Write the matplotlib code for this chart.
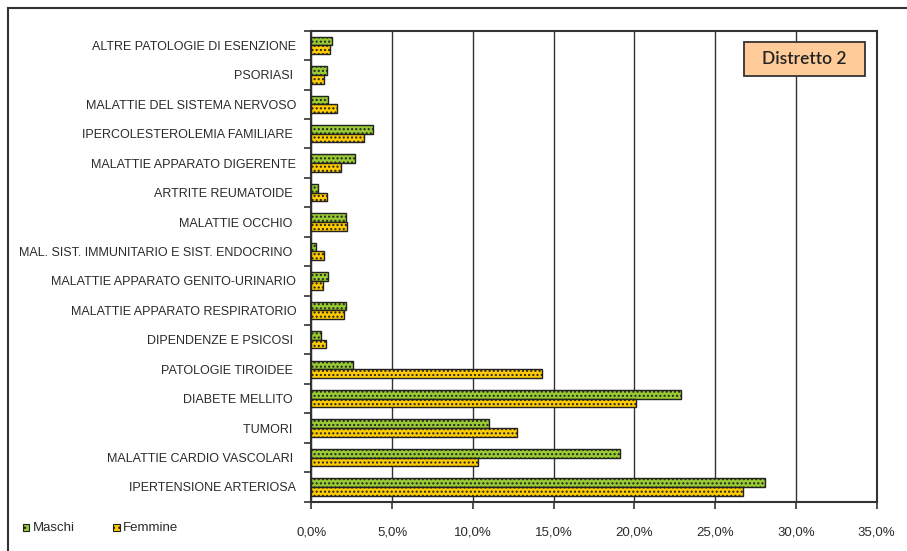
import numpy as np
import matplotlib
matplotlib.use('Agg')
import matplotlib.pyplot as plt
from matplotlib.patches import Rectangle
from matplotlib.ticker import FuncFormatter, MultipleLocator

plt.rcParams['font.family'] = ['Liberation Sans', 'DejaVu Sans']
plt.rcParams['hatch.linewidth'] = 1.0

# Categories, top to bottom as in the chart
categories = [
    'ALTRE PATOLOGIE DI ESENZIONE', 'PSORIASI ', 'MALATTIE DEL SISTEMA NERVOSO',
    'IPERCOLESTEROLEMIA FAMILIARE ', 'MALATTIE APPARATO DIGERENTE', 'ARTRITE REUMATOIDE ',
    'MALATTIE OCCHIO ', 'MAL. SIST. IMMUNITARIO E SIST. ENDOCRINO ',
    'MALATTIE APPARATO GENITO-URINARIO', 'MALATTIE APPARATO RESPIRATORIO',
    'DIPENDENZE E PSICOSI ', 'PATOLOGIE TIROIDEE ', 'DIABETE MELLITO ', 'TUMORI ',
    'MALATTIE CARDIO VASCOLARI ', 'IPERTENSIONE ARTERIOSA',
]
maschi = [1.28, 0.97, 1.03, 3.8, 2.68, 0.39, 2.13, 0.25, 1.03, 2.13, 0.58, 2.6, 22.9, 11.0, 19.1, 28.1]
femmine = [1.13, 0.8, 1.59, 3.24, 1.82, 0.97, 2.23, 0.79, 0.72, 2.04, 0.87, 14.26, 20.1, 12.7, 10.3, 26.7]

green = '#99CC33'
yellow = '#FFCC00'
dark = '#333333'
txt = '#2a2a2a'

fig = plt.figure(figsize=(9.07, 5.51), dpi=100)
ax = fig.add_axes([0.3434, 0.0895, 0.6232, 0.8548])

n = len(categories)
y = np.arange(n)[::-1]
h = 0.295
ax.barh(y + h / 2, maschi, height=h, color=green, edgecolor='#222222', hatch='....', linewidth=1.0, zorder=3)
ax.barh(y - h / 2, femmine, height=h, color=yellow, edgecolor='#222222', hatch='....', linewidth=1.0, zorder=3)

ax.set_xlim(0, 35)
ax.set_ylim(-0.5, n - 0.5)
ax.xaxis.set_major_locator(MultipleLocator(5))
ax.xaxis.set_major_formatter(FuncFormatter(lambda v, p: f'{v:.1f}%'.replace('.', ',')))
ax.grid(axis='x', color=dark, linewidth=1.0, zorder=0)

ax.set_yticks(y)
ax.set_yticklabels(categories)
ax.set_yticks(np.arange(-0.5, n, 1.0), minor=True)
ax.tick_params(axis='y', which='major', length=0, pad=11, labelsize=9, labelcolor=txt)
ax.tick_params(axis='y', which='minor', length=5, width=1.2, color=dark, direction='out')
ax.tick_params(axis='x', length=5, width=1.2, color=dark, direction='out', pad=13,
               labelsize=9.5, labelcolor=txt)

for s in ax.spines.values():
    s.set_color(dark)
    s.set_linewidth(1.5)

# "Distretto 2" box
ax.add_patch(Rectangle((0.765, 0.904), 0.214, 0.072, transform=ax.transAxes,
                       facecolor='#FFCC99', edgecolor=dark, linewidth=1.3, zorder=5))
ax.text(0.872, 0.940, 'Distretto 2', transform=ax.transAxes, ha='center', va='center',
        fontsize=12.5, family=['Lato', 'DejaVu Sans'], weight='semibold', color='#222222', zorder=6)

# Legend
for x0, col, lab in [(0.025, green, 'Maschi'), (0.125, yellow, 'Femmine')]:
    fig.patches.append(Rectangle((x0, 0.036), 0.0075, 0.0125, transform=fig.transFigure,
                                 facecolor=col, edgecolor='#222222', hatch='...', linewidth=0.8))
    fig.text(x0 + 0.011, 0.042, lab, fontsize=9.5, va='center', color=txt)

# Frame of the chart
fig.add_artist(plt.Line2D([8 / 907, 8 / 907], [0, 1 - 8 / 551], transform=fig.transFigure,
                          color=dark, linewidth=1.5))
fig.add_artist(plt.Line2D([8 / 907, 1], [1 - 8 / 551, 1 - 8 / 551], transform=fig.transFigure,
                          color=dark, linewidth=1.5))

fig.savefig('out.png', dpi=100)
